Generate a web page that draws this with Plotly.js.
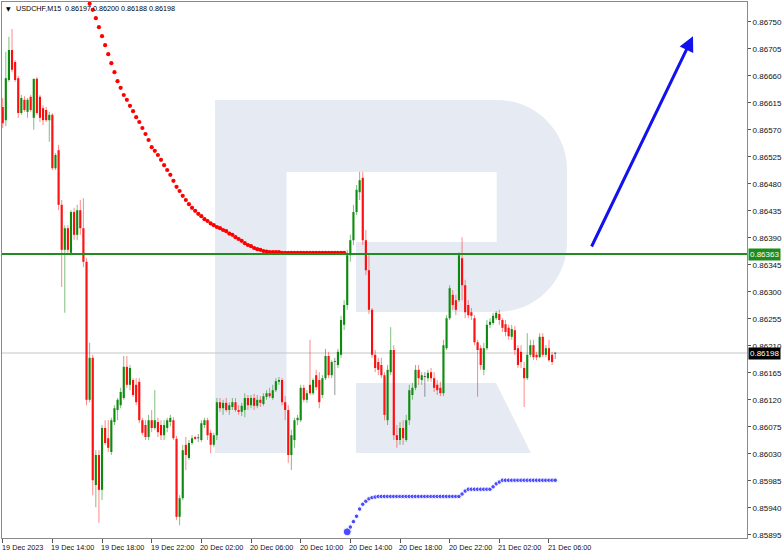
<!DOCTYPE html>
<html><head><meta charset="utf-8">
<script src="https://cdn.plot.ly/plotly-3.0.1.min.js"></script>
<style>html,body{margin:0;padding:0;background:#fff}#chart{width:782px;height:555px}</style>
</head><body><div id="chart"></div>
<script>
// USDCHF M15, bars indexed from 19 Dec 10:00 (one bar = 15 minutes)
const openP=[
0.86608,0.86586,0.86653,0.86703,0.86683,0.86656,0.86598,0.86620,0.86600,0.86625,
0.86590,0.86655,0.86625,0.86606,0.86603,0.86586,0.86595,0.86506,0.86536,0.86445,
0.86370,0.86406,0.86365,0.86433,0.86395,0.86436,0.86406,0.86350,0.86120,0.86190,
0.85978,0.86028,0.85970,0.86073,0.86056,0.86033,0.86083,0.86103,0.86111,0.86123,
0.86175,0.86145,0.86153,0.86145,0.86150,0.86086,0.86078,0.86058,0.86086,0.86073,
0.86083,0.86078,0.86061,0.86073,0.86083,0.86086,0.86055,0.85925,0.85956,0.86045,
0.86023,0.86048,0.86058,0.86056,0.86053,0.86078,0.86086,0.86065,0.86045,0.86061,
0.86116,0.86106,0.86115,0.86103,0.86108,0.86116,0.86103,0.86100,0.86103,0.86123,
0.86111,0.86123,0.86110,0.86120,0.86113,0.86125,0.86131,0.86123,0.86136,0.86150,
0.86153,0.86116,0.86103,0.86028,0.86053,0.86086,0.86086,0.86140,0.86120,0.86145,
0.86131,0.86161,0.86153,0.86128,0.86156,0.86193,0.86161,0.86183,0.86178,0.86195,
0.86245,0.86278,0.86361,0.86386,0.86433,0.86466,0.86490,0.86386,0.86336,0.86270,
0.86195,0.86183,0.86178,0.86161,0.86086,0.86166,0.86203,0.86061,0.86053,0.86073,
0.86053,0.86086,0.86128,0.86140,0.86170,0.86153,0.86158,0.86156,0.86166,0.86156,
0.86145,0.86140,0.86131,0.86206,0.86256,0.86295,0.86286,0.86286,0.86356,0.86311,
0.86278,0.86266,0.86256,0.86216,0.86206,0.86170,0.86206,0.86245,0.86248,0.86256,
0.86263,0.86253,0.86246,0.86240,0.86225,0.86236,0.86206,0.86200,0.86173,0.86156,
0.86195,0.86211,0.86195,0.86191,0.86225,0.86195,0.86206,0.86195,0.86197];
const highP=[
0.86623,0.86700,0.86725,0.86738,0.86686,0.86660,0.86628,0.86626,0.86623,0.86628,
0.86655,0.86658,0.86628,0.86611,0.86608,0.86600,0.86598,0.86531,0.86545,0.86453,
0.86411,0.86411,0.86436,0.86440,0.86445,0.86453,0.86456,0.86356,0.86215,0.86195,
0.86036,0.86036,0.86078,0.86086,0.86086,0.86090,0.86111,0.86123,0.86140,0.86193,
0.86193,0.86178,0.86156,0.86156,0.86156,0.86090,0.86086,0.86095,0.86103,0.86136,
0.86090,0.86086,0.86086,0.86090,0.86095,0.86091,0.86060,0.85961,0.86045,0.86058,
0.86053,0.86061,0.86060,0.86063,0.86086,0.86090,0.86090,0.86070,0.86065,0.86123,
0.86123,0.86120,0.86123,0.86116,0.86123,0.86123,0.86111,0.86115,0.86131,0.86128,
0.86128,0.86130,0.86128,0.86126,0.86131,0.86136,0.86140,0.86145,0.86156,0.86158,
0.86156,0.86126,0.86111,0.86070,0.86090,0.86095,0.86145,0.86145,0.86136,0.86220,
0.86156,0.86170,0.86166,0.86161,0.86205,0.86200,0.86186,0.86190,0.86205,0.86260,
0.86286,0.86370,0.86395,0.86445,0.86478,0.86500,0.86500,0.86403,0.86361,0.86273,
0.86203,0.86190,0.86190,0.86166,0.86178,0.86241,0.86211,0.86078,0.86083,0.86086,
0.86095,0.86145,0.86148,0.86178,0.86178,0.86166,0.86166,0.86170,0.86173,0.86166,
0.86153,0.86150,0.86220,0.86261,0.86311,0.86303,0.86295,0.86366,0.86391,0.86320,
0.86286,0.86273,0.86261,0.86220,0.86211,0.86215,0.86253,0.86256,0.86265,0.86268,
0.86270,0.86256,0.86253,0.86245,0.86245,0.86243,0.86211,0.86211,0.86183,0.86231,
0.86220,0.86220,0.86200,0.86231,0.86231,0.86211,0.86220,0.86200,0.86200];
const lowP=[
0.86573,0.86576,0.86650,0.86666,0.86650,0.86590,0.86595,0.86600,0.86590,0.86600,
0.86570,0.86595,0.86583,0.86578,0.86583,0.86550,0.86503,0.86503,0.86436,0.86308,
0.86265,0.86365,0.86361,0.86386,0.86386,0.86395,0.86341,0.86111,0.86116,0.85961,
0.85941,0.85915,0.85953,0.86045,0.86033,0.86028,0.86078,0.86086,0.86106,0.86120,
0.86140,0.86136,0.86125,0.86111,0.86081,0.86061,0.86053,0.86053,0.86066,0.86070,
0.86058,0.86053,0.86053,0.86066,0.86076,0.86053,0.85920,0.85911,0.85953,0.86003,
0.86020,0.86045,0.86053,0.86050,0.86050,0.86073,0.86053,0.86031,0.86041,0.86053,
0.86100,0.86095,0.86100,0.86095,0.86103,0.86100,0.86095,0.86093,0.86091,0.86103,
0.86106,0.86103,0.86106,0.86108,0.86110,0.86120,0.86123,0.86120,0.86133,0.86145,
0.86111,0.86086,0.86015,0.86003,0.86040,0.86078,0.86083,0.86116,0.86115,0.86128,
0.86128,0.86136,0.86106,0.86123,0.86153,0.86156,0.86156,0.86128,0.86173,0.86190,
0.86236,0.86270,0.86350,0.86378,0.86428,0.86453,0.86378,0.86328,0.86263,0.86190,
0.86166,0.86161,0.86156,0.86086,0.86078,0.86161,0.86053,0.86040,0.86045,0.86045,
0.86050,0.86078,0.86120,0.86136,0.86145,0.86145,0.86125,0.86150,0.86150,0.86133,
0.86128,0.86126,0.86126,0.86203,0.86253,0.86270,0.86261,0.86283,0.86286,0.86256,
0.86256,0.86253,0.86211,0.86125,0.86170,0.86161,0.86203,0.86240,0.86245,0.86253,
0.86245,0.86233,0.86226,0.86220,0.86220,0.86195,0.86173,0.86173,0.86108,0.86153,
0.86191,0.86186,0.86186,0.86190,0.86191,0.86191,0.86183,0.86178,0.86188];
const closeP=[
0.86581,0.86656,0.86703,0.86670,0.86653,0.86598,0.86623,0.86603,0.86620,0.86603,
0.86655,0.86598,0.86590,0.86586,0.86586,0.86595,0.86506,0.86528,0.86445,0.86370,
0.86406,0.86370,0.86433,0.86395,0.86436,0.86406,0.86350,0.86120,0.86190,0.85986,
0.86028,0.85970,0.86073,0.86048,0.86040,0.86086,0.86106,0.86120,0.86133,0.86175,
0.86145,0.86173,0.86128,0.86116,0.86086,0.86065,0.86058,0.86086,0.86073,0.86086,
0.86066,0.86061,0.86078,0.86086,0.86090,0.86056,0.85925,0.85956,0.86036,0.86028,
0.86048,0.86056,0.86055,0.86056,0.86081,0.86086,0.86061,0.86045,0.86061,0.86116,
0.86106,0.86115,0.86103,0.86111,0.86116,0.86103,0.86100,0.86110,0.86123,0.86111,
0.86123,0.86110,0.86120,0.86115,0.86126,0.86131,0.86126,0.86136,0.86151,0.86153,
0.86116,0.86103,0.86028,0.86061,0.86086,0.86090,0.86140,0.86120,0.86131,0.86131,
0.86153,0.86141,0.86116,0.86156,0.86193,0.86161,0.86183,0.86183,0.86200,0.86253,
0.86278,0.86361,0.86386,0.86433,0.86470,0.86486,0.86386,0.86336,0.86270,0.86195,
0.86173,0.86170,0.86161,0.86095,0.86170,0.86203,0.86061,0.86053,0.86073,0.86056,
0.86086,0.86136,0.86140,0.86170,0.86156,0.86161,0.86158,0.86165,0.86156,0.86140,
0.86136,0.86131,0.86211,0.86256,0.86306,0.86278,0.86270,0.86361,0.86311,0.86266,
0.86261,0.86260,0.86216,0.86203,0.86178,0.86206,0.86245,0.86250,0.86260,0.86265,
0.86253,0.86240,0.86233,0.86226,0.86238,0.86203,0.86178,0.86183,0.86156,0.86195,
0.86211,0.86191,0.86191,0.86225,0.86195,0.86206,0.86186,0.86183,0.86198];

// red dotted indicator, first dot at bar 28
const redDotStart=28;
const redDots=[
0.86780,0.86770,0.86756,0.86741,0.86726,0.86711,0.86696,0.86681,0.86666,0.86651,
0.86640,0.86628,0.86620,0.86610,0.86601,0.86591,0.86583,0.86573,0.86563,0.86553,
0.86541,0.86535,0.86528,0.86520,0.86511,0.86503,0.86495,0.86485,0.86475,0.86468,
0.86460,0.86453,0.86446,0.86440,0.86435,0.86430,0.86426,0.86421,0.86418,0.86414,
0.86411,0.86408,0.86406,0.86403,0.86401,0.86397,0.86395,0.86391,0.86388,0.86385,
0.86381,0.86378,0.86376,0.86373,0.86371,0.86370,0.86368,0.86367,0.86366,0.86366,
0.86366,0.86366,0.86365,0.86365,0.86365,0.86365,0.86365,0.86365,0.86365,0.86365,
0.86365,0.86365,0.86365,0.86365,0.86365,0.86365,0.86365,0.86365,0.86365,0.86365,
0.86365,0.86365,0.86365];
// blue dotted indicator, first dot at bar 111
const blueDotStart=111;
const blueDots=[
0.85900,0.85908,0.85917,0.85926,0.85938,0.85946,0.85951,0.85955,0.85957,0.85958,
0.85959,0.85959,0.85959,0.85959,0.85959,0.85959,0.85959,0.85959,0.85959,0.85959,
0.85959,0.85959,0.85959,0.85959,0.85959,0.85959,0.85959,0.85959,0.85959,0.85959,
0.85959,0.85959,0.85959,0.85959,0.85959,0.85959,0.85959,0.85963,0.85968,0.85971,
0.85971,0.85971,0.85971,0.85971,0.85971,0.85971,0.85971,0.85975,0.85980,0.85983,
0.85986,0.85986,0.85986,0.85986,0.85986,0.85986,0.85986,0.85986,0.85986,0.85986,
0.85986,0.85986,0.85986,0.85986,0.85986,0.85986,0.85986,0.85986];

const levelGreen=0.86363;
const lastPrice=0.86198;
const arrowTail=[189.5,0.86373];
const arrowHead=[222.4,0.86726];

const yTicks=[0.85895,0.85940,0.85985,0.86030,0.86075,0.86120,0.86165,0.86210,0.86255,0.86300,
0.86345,0.86390,0.86435,0.86480,0.86525,0.86570,0.86615,0.86660,0.86705,0.86750];
const xTickIdx=[0,16,32,48,64,80,96,112,128,144,160,176];
const xTickLabels=["19 Dec 2023","19 Dec 14:00","19 Dec 18:00","19 Dec 22:00","20 Dec 02:00","20 Dec 06:00",
"20 Dec 10:00","20 Dec 14:00","20 Dec 18:00","20 Dec 22:00","21 Dec 02:00","21 Dec 06:00"];
const titleText="USDCHF,M15  0.86197 0.86200 0.86188 0.86198";

// ---- build traces ----
const groups={up:{x:[],b:[],h:[],wx:[],wy:[]},dn:{x:[],b:[],h:[],wx:[],wy:[]},dj:{x:[],b:[],h:[],wx:[],wy:[]}};
for(let i=0;i<openP.length;i++){
  const o=openP[i],c=closeP[i];
  const diff=c-o;
  const g=Math.abs(diff)<0.000015?groups.dj:(diff>0?groups.up:groups.dn);
  const lo=Math.min(o,c);
  g.x.push(i);g.b.push(lo);g.h.push(Math.max(Math.abs(diff),0.000014));
  g.wx.push(i,i,null);g.wy.push(lowP[i],highP[i],null);
}
const cols={up:['#0b8a0b','rgba(20,140,20,0.55)'],dn:['#ff0000','rgba(255,40,40,0.55)'],dj:['#444444','rgba(80,80,80,0.6)']};
const traces=[];
for(const k of ['up','dn','dj']){
  traces.push({type:'scatter',mode:'lines',x:groups[k].wx,y:groups[k].wy,line:{color:cols[k][1],width:1},hoverinfo:'skip'});
}
for(const k of ['up','dn','dj']){
  traces.push({type:'bar',x:groups[k].x,base:groups[k].b,y:groups[k].h,width:0.68,marker:{color:cols[k][0],line:{width:0}},hoverinfo:'skip'});
}
traces.push({type:'scatter',mode:'markers',x:redDots.map((_,k)=>redDotStart+k),y:redDots,marker:{color:'#ff0000',size:4.2},hoverinfo:'skip'});
traces.push({type:'scatter',mode:'markers',x:blueDots.map((_,k)=>blueDotStart+k),y:blueDots,marker:{color:'#0000ff',size:blueDots.map((_,k)=>k===0?8:4.5)},hoverinfo:'skip'});

const wm='#e6ebf3';
const shapes=[
 {type:'rect',xref:'paper',yref:'paper',x0:0.28591,x1:0.38200,y0:0.15858,y1:0.81716,fillcolor:wm,line:{width:0},layer:'below'},
 {type:'rect',xref:'paper',yref:'paper',x0:0.38100,x1:0.66600,y0:0.68284,y1:0.81716,fillcolor:wm,line:{width:0},layer:'below'},
 {type:'rect',xref:'paper',yref:'paper',x0:0.47517,x1:0.66600,y0:0.42164,y1:0.55224,fillcolor:wm,line:{width:0},layer:'below'},
 {type:'path',xref:'paper',yref:'paper',path:'M 0.66400 0.81716 L 0.66443 0.81716 C 0.71638 0.81716 0.75839 0.75877 0.75839 0.68657 L 0.75839 0.55224 C 0.75839 0.48004 0.71638 0.42164 0.66443 0.42164 L 0.66400 0.42164 Z',fillcolor:wm,line:{width:0},layer:'below'},
 {type:'path',xref:'paper',yref:'paper',path:'M 0.47517 0.28918 L 0.66309 0.28918 L 0.71007 0.15858 L 0.47517 0.15858 Z',fillcolor:wm,line:{width:0},layer:'below'},
 {type:'line',xref:'paper',yref:'y',x0:0,x1:1,y0:lastPrice,y1:lastPrice,line:{color:'#c4c4c4',width:1},layer:'below'},
 {type:'line',xref:'paper',yref:'y',x0:0,x1:1,y0:levelGreen,y1:levelGreen,line:{color:'#228b22',width:2},layer:'above'}
];

const fnt='Liberation Sans, Arial, sans-serif';
const annotations=[
 {xref:'x',yref:'y',x:arrowHead[0],y:arrowHead[1],axref:'x',ayref:'y',ax:arrowTail[0],ay:arrowTail[1],showarrow:true,arrowhead:2,arrowsize:1,arrowwidth:3,arrowcolor:'#1212ee',standoff:0,text:''},
 {xref:'paper',yref:'y',x:1,xanchor:'left',xshift:1,y:levelGreen,yanchor:'middle',text:levelGreen.toFixed(5),showarrow:false,bgcolor:'#1c8c1c',font:{family:fnt,size:8,color:'#ffffff'},borderpad:1},
 {xref:'paper',yref:'y',x:1,xanchor:'left',xshift:1,y:lastPrice,yanchor:'middle',text:lastPrice.toFixed(5),showarrow:false,bgcolor:'#000000',font:{family:fnt,size:8,color:'#ffffff'},borderpad:1},
 {xref:'paper',yref:'paper',x:0.0027,xanchor:'left',y:1,yanchor:'top',yshift:-1,text:'▼',showarrow:false,font:{family:'DejaVu Sans',size:6,color:'#000'}},
 {xref:'paper',yref:'paper',x:0.0161,xanchor:'left',y:1,yanchor:'top',yshift:0,text:titleText,showarrow:false,font:{family:fnt,size:7.2,color:'#000'}}
];
xTickIdx.forEach((t,k)=>{
  annotations.push({xref:'x',yref:'paper',x:t,xanchor:'left',xshift:-2,y:0,yanchor:'middle',yshift:-9,text:xTickLabels[k],showarrow:false,
    font:{family:fnt,size:7.3,color:'#111'},borderpad:0});
});

const layout={
 width:782,height:555,margin:{l:2,r:35,t:2,b:17,pad:0},
 paper_bgcolor:'#ffffff',plot_bgcolor:'#ffffff',showlegend:false,barmode:'overlay',
 xaxis:{range:[-0.23,239.8],tickvals:xTickIdx,showticklabels:false,ticks:'outside',ticklen:4,tickcolor:'#555',
   showgrid:false,zeroline:false,showline:true,linecolor:'#8a8a8a',linewidth:1,mirror:true,fixedrange:true,automargin:false},
 yaxis:{side:'right',range:[0.858897,0.86783],tickvals:yTicks,tickformat:'.5f',ticks:'outside',ticklen:3,tickcolor:'#555',
   tickfont:{family:fnt,size:8,color:'#111'},showgrid:false,zeroline:false,showline:true,linecolor:'#8a8a8a',linewidth:1,
   mirror:true,fixedrange:true,automargin:false},
 shapes:shapes,annotations:annotations
};
Plotly.newPlot('chart',traces,layout,{staticPlot:true,displayModeBar:false});
</script></body></html>
